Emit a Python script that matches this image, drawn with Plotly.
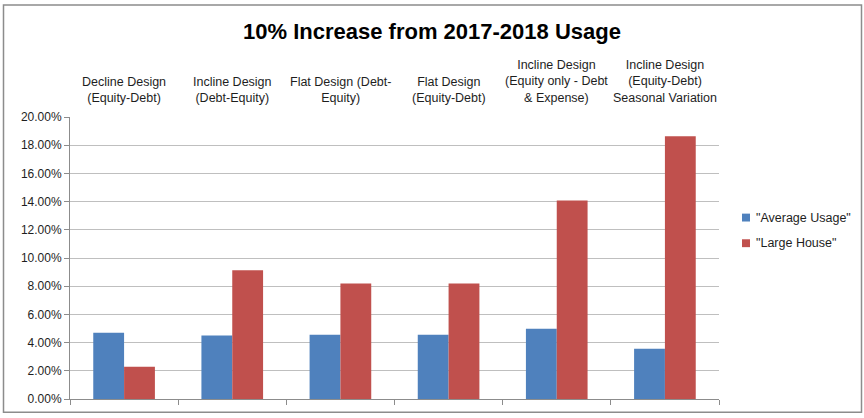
import plotly.graph_objects as go

# Rate plans compared
categories = [
    "Decline Design<br>(Equity-Debt)",
    "Incline Design<br>(Debt-Equity)",
    "Flat Design (Debt-<br>Equity)",
    "Flat Design<br>(Equity-Debt)",
    "Incline Design<br>(Equity only - Debt<br>& Expense)",
    "Incline Design<br>(Equity-Debt)<br>Seasonal Variation",
]
# Percentage increase in bill, by customer profile
average_usage = [4.69, 4.51, 4.56, 4.56, 4.99, 3.56]
large_house = [2.29, 9.14, 8.20, 8.20, 14.08, 18.64]
series_names = ['"Average Usage"', '"Large House"']
series_colors = ["#4F81BD", "#C0504D"]
y_ticks = [0, 2, 4, 6, 8, 10, 12, 14, 16, 18, 20]

W, H = 864, 418
L, R, T, B = 70, 145, 117, 15
FONT = "Liberation Sans"
TEXT = "#1e1e1e"

pw = W - L - R
ph = H - T - B


def px_x(x):
    """Horizontal pixel -> paper coordinate."""
    return (x - L) / pw


def px_y(y):
    """Vertical pixel (from top) -> paper coordinate."""
    return (H - B - y) / ph


x_keys = list(range(len(categories)))

fig = go.Figure()
for name, vals, col in zip(series_names, [average_usage, large_house], series_colors):
    fig.add_trace(go.Bar(x=x_keys, y=vals, name=name,
                         marker=dict(color=col, line=dict(width=0)),
                         showlegend=False))

# Category names sit above the plotting area
for k, label in zip(x_keys, categories):
    fig.add_annotation(x=k, y=1, xref="x", yref="paper", text=label,
                       showarrow=False, xanchor="center", yanchor="bottom",
                       yshift=10, align="center",
                       font=dict(family=FONT, size=12.5, color=TEXT))

# Legend: small swatches with labels to the right of the plot
for i, (name, col) in enumerate(zip(series_names, series_colors)):
    cy = 219 + 26 * i
    fig.add_shape(type="rect", xref="paper", yref="paper",
                  x0=px_x(742), x1=px_x(750), y0=px_y(cy + 4), y1=px_y(cy - 4),
                  fillcolor=col, line=dict(width=0))
    fig.add_annotation(x=px_x(754), y=px_y(cy), xref="paper", yref="paper",
                       text=name, showarrow=False, xanchor="left",
                       yanchor="middle",
                       font=dict(family=FONT, size=12.5, color=TEXT))

# Outer chart border
fig.add_shape(type="rect", xref="paper", yref="paper",
              x0=px_x(3.5), x1=px_x(861.5), y0=px_y(416.5), y1=px_y(3.5),
              line=dict(color="#8c8c8c", width=1.5), layer="below")

fig.update_layout(
    width=W, height=H,
    margin=dict(l=L, r=R, t=T, b=B, pad=0),
    paper_bgcolor="white", plot_bgcolor="white",
    barmode="group", bargap=0.43, bargroupgap=0,
    title=dict(text="<b>10% Increase from 2017-2018 Usage</b>",
               x=0.5, xref="container", xanchor="center",
               y=1 - 31 / H, yanchor="middle",
               font=dict(family=FONT, size=22, color="black")),
    font=dict(family=FONT, size=12, color=TEXT),
    showlegend=False,
    xaxis=dict(type="linear", range=[-0.5, 5.5], showticklabels=False,
               tickmode="array", tickvals=[i - 0.5 for i in range(7)],
               ticks="outside", ticklen=5, tickcolor="#8c8c8c",
               showline=True, linecolor="#8c8c8c", linewidth=1,
               showgrid=False, zeroline=False, fixedrange=True),
    yaxis=dict(range=[0, 20], tickvals=y_ticks,
               ticktext=[f"{v:.2f}%" for v in y_ticks],
               ticks="outside", ticklen=5, tickcolor="#8c8c8c",
               showline=True, linecolor="#8c8c8c", linewidth=1,
               showgrid=True, gridcolor="#bfbfbf", gridwidth=1,
               zeroline=False, tickfont=dict(family=FONT, size=12, color=TEXT)),
)

fig.write_html("out.html")
